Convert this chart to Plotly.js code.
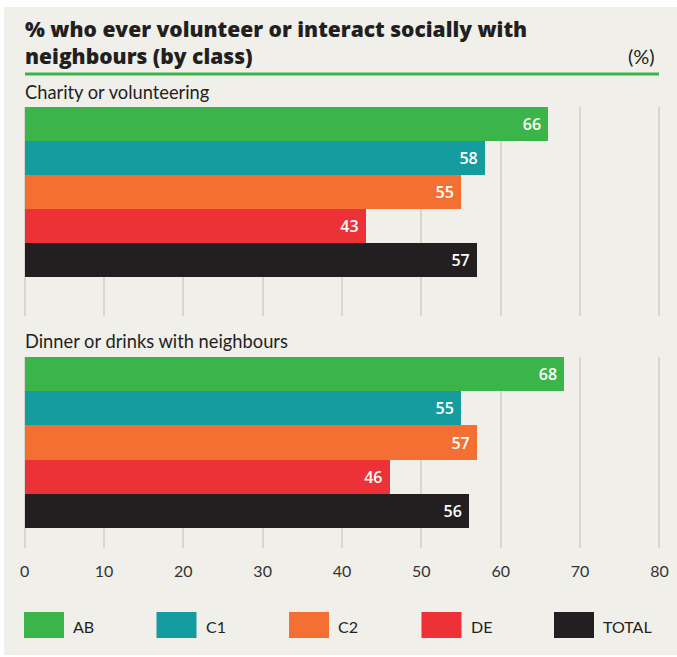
<!DOCTYPE html>
<html>
<head>
<meta charset="utf-8">
<script src="https://cdn.plot.ly/plotly-3.0.1.min.js"></script>
<style>html,body{margin:0;padding:0;background:#fff;}#chart{width:677px;height:657px;}</style>
</head>
<body>
<div id="chart"></div>
<script>
const categories = ['AB', 'C1', 'C2', 'DE', 'TOTAL'];
const charity = [66, 58, 55, 43, 57];
const dinner = [68, 55, 57, 46, 56];
const panelTitles = ['Charity or volunteering', 'Dinner or drinks with neighbours'];
const xTicks = [0, 10, 20, 30, 40, 50, 60, 70, 80];
const titleLines = ['% who ever volunteer or interact socially with', 'neighbours (by class)'];
const unitLabel = '(%)';

const colors = ['#3bb54a', '#159c9e', '#f37032', '#ec3237', '#231f20'];
const W = 677, H = 657;
const M = {l: 23, r: 16, t: 107, b: 109};
const PW = W - M.l - M.r, PH = H - M.t - M.b;
const px = v => (v - M.l) / PW;
const py = v => (H - M.b - v) / PH;
const bodyFont = 'Lato, "Open Sans", sans-serif';

function barTrace(vals, xa, ya) {
  return {
    type: 'bar', orientation: 'h',
    x: vals, y: categories,
    xaxis: xa, yaxis: ya,
    marker: {color: colors, line: {width: 0}},
    text: vals.map(v => String(v) + '\u00a0'),
    textposition: 'inside', insidetextanchor: 'end',
    textfont: {family: '"Open Sans", sans-serif', size: 16, color: '#ffffff', weight: 600},
    constraintext: 'none',
    hoverinfo: 'skip', showlegend: false
  };
}

const data = [barTrace(charity, 'x', 'y'), barTrace(dinner, 'x2', 'y2')];

const xCommon = {
  range: [-0.2, 80.2], tickvals: xTicks, ticktext: xTicks.map(String),
  showgrid: true, gridcolor: '#d8d7cb', gridwidth: 2,
  zeroline: false, showline: false, ticks: '',
  fixedrange: true
};
const yCommon = {
  type: 'category', categoryarray: categories, categoryorder: 'array',
  showticklabels: false, showgrid: false, zeroline: false, showline: false, ticks: '',
  fixedrange: true
};

const shapes = [
  {type: 'rect', xref: 'paper', yref: 'paper', x0: px(4), x1: px(677), y0: py(7), y1: py(655),
   fillcolor: '#f0efea', line: {width: 0}, layer: 'below'},
  {type: 'line', xref: 'paper', yref: 'paper', x0: px(25), x1: px(659), y0: py(74), y1: py(74),
   line: {color: '#3bb54a', width: 3}}
];
const titleFont = {family: '"Open Sans", sans-serif', size: 21, color: '#231f20', weight: 800};
const annotations = [
  {xref: 'paper', yref: 'paper', x: px(23), y: py(42.5), xanchor: 'left', yanchor: 'middle', align: 'left',
   text: titleLines.join('<br>'), showarrow: false, font: titleFont},
  {xref: 'paper', yref: 'paper', x: px(657), y: py(56), xanchor: 'right', yanchor: 'middle',
   text: unitLabel, showarrow: false,
   font: {family: bodyFont, size: 20, color: '#231f20'}},
  {xref: 'paper', yref: 'paper', x: px(23), y: py(92), xanchor: 'left', yanchor: 'middle',
   text: panelTitles[0], showarrow: false, font: {family: bodyFont, size: 18.3, color: '#231f20'}},
  {xref: 'paper', yref: 'paper', x: px(23), y: py(341), xanchor: 'left', yanchor: 'middle',
   text: panelTitles[1], showarrow: false, font: {family: bodyFont, size: 18.3, color: '#231f20'}}
];
categories.forEach((c, i) => {
  const x0 = 24 + i * 132.5;
  shapes.push({type: 'rect', xref: 'paper', yref: 'paper', x0: px(x0), x1: px(x0 + 40),
    y0: py(638), y1: py(612), fillcolor: colors[i], line: {width: 0}});
  annotations.push({xref: 'paper', yref: 'paper', x: px(x0 + 47), y: py(626), xanchor: 'left', yanchor: 'middle',
    text: c, showarrow: false, font: {family: bodyFont, size: 16, color: '#231f20'}});
});

const layout = {
  width: W, height: H, margin: M,
  paper_bgcolor: '#ffffff', plot_bgcolor: 'rgba(0,0,0,0)',
  bargap: 0, showlegend: false,
  xaxis: Object.assign({}, xCommon, {anchor: 'y', showticklabels: false}),
  yaxis: Object.assign({}, yCommon, {domain: [py(316), 1], range: [5.65, -0.5], anchor: 'x'}),
  xaxis2: Object.assign({}, xCommon, {anchor: 'y2', showticklabels: true, ticklabelstandoff: 12,
    tickfont: {family: bodyFont, size: 16, color: '#333333'}}),
  yaxis2: Object.assign({}, yCommon, {domain: [0, py(357)], range: [5.08, -0.5], anchor: 'x2'}),
  shapes: shapes, annotations: annotations
};

Plotly.newPlot('chart', data, layout, {displayModeBar: false, staticPlot: true});
</script>
</body>
</html>
